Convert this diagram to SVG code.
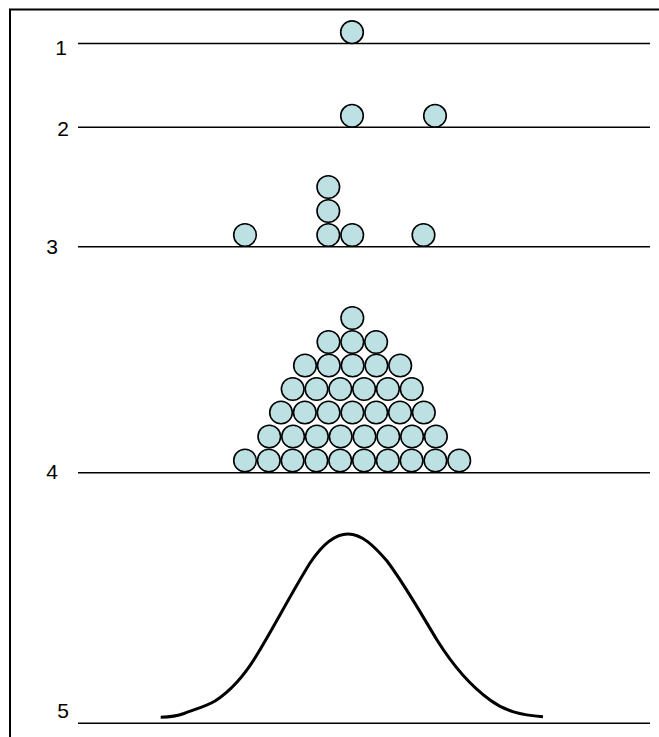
<svg xmlns="http://www.w3.org/2000/svg" width="659" height="737" viewBox="0 0 659 737">
<style>
.lbl{font-family:"Liberation Sans",Arial,sans-serif;font-size:21px;fill:#000;text-anchor:middle}
.ln{stroke:#000;stroke-width:1.6;fill:none}
.b{fill:#BDE0E3;stroke:#000;stroke-width:1.6}
</style>
<defs><circle id="ball" r="11.3" class="b"/></defs>
<rect x="0" y="0" width="659" height="737" fill="#fff"/>
<g id="frame"><path d="M10,737 V9.5 H659" fill="none" stroke="#000" stroke-width="2"/></g>
<g id="connectors">
<line class="ln" x1="78" y1="43.5" x2="650" y2="43.5"/>
<line class="ln" x1="78" y1="127.3" x2="650" y2="127.3"/>
<line class="ln" x1="78" y1="246.8" x2="650" y2="246.8"/>
<line class="ln" x1="78" y1="472.7" x2="650" y2="472.7"/>
<line class="ln" x1="78" y1="723.3" x2="650" y2="723.3"/>
</g>
<g id="labels">
<text class="lbl" x="61" y="55">1</text>
<text class="lbl" x="63" y="136">2</text>
<text class="lbl" x="52" y="254">3</text>
<text class="lbl" x="52" y="479">4</text>
<text class="lbl" x="63" y="718">5</text>
</g>
<g id="row1"><use href="#ball" x="352" y="32.2"/></g>
<g id="row2"><use href="#ball" x="352" y="115.8"/><use href="#ball" x="435" y="115.8"/></g>
<g id="row3">
<use href="#ball" x="245" y="235"/>
<use href="#ball" x="328.3" y="235"/>
<use href="#ball" x="352.2" y="235"/>
<use href="#ball" x="423.5" y="235"/>
<use href="#ball" x="328.3" y="211"/>
<use href="#ball" x="328.3" y="187"/>
</g>
<g id="row4">
<use href="#ball" x="245" y="460.5"/><use href="#ball" x="268.8" y="460.5"/><use href="#ball" x="292.6" y="460.5"/><use href="#ball" x="316.4" y="460.5"/><use href="#ball" x="340.2" y="460.5"/><use href="#ball" x="364" y="460.5"/><use href="#ball" x="387.8" y="460.5"/><use href="#ball" x="411.6" y="460.5"/><use href="#ball" x="435.4" y="460.5"/><use href="#ball" x="459.2" y="460.5"/>
<use href="#ball" x="269.3" y="436.5"/><use href="#ball" x="293.1" y="436.5"/><use href="#ball" x="316.9" y="436.5"/><use href="#ball" x="340.7" y="436.5"/><use href="#ball" x="364.5" y="436.5"/><use href="#ball" x="388.3" y="436.5"/><use href="#ball" x="412.1" y="436.5"/><use href="#ball" x="435.9" y="436.5"/>
<use href="#ball" x="281" y="412.5"/><use href="#ball" x="304.8" y="412.5"/><use href="#ball" x="328.6" y="412.5"/><use href="#ball" x="352.4" y="412.5"/><use href="#ball" x="376.2" y="412.5"/><use href="#ball" x="400" y="412.5"/><use href="#ball" x="423.8" y="412.5"/>
<use href="#ball" x="292.7" y="389"/><use href="#ball" x="316.5" y="389"/><use href="#ball" x="340.3" y="389"/><use href="#ball" x="364.1" y="389"/><use href="#ball" x="387.9" y="389"/><use href="#ball" x="411.7" y="389"/>
<use href="#ball" x="305" y="365.5"/><use href="#ball" x="328.8" y="365.5"/><use href="#ball" x="352.6" y="365.5"/><use href="#ball" x="376.4" y="365.5"/><use href="#ball" x="400.2" y="365.5"/>
<use href="#ball" x="328.5" y="342"/><use href="#ball" x="352.3" y="342"/><use href="#ball" x="376.1" y="342"/>
<use href="#ball" x="352.3" y="318"/>
</g>
<g id="curve">
<path d="M160.7,717.3 C170,717 176,716.5 184,713.5 C195,709 205,707 215,701 C232,690 245,675 258,653 C275,625 292,592 310,563 C322,545 334,534 348,534 C362,534 374,546 387,561 C405,585 420,612 437,640 C452,664 468,684 490,700 C505,711 520,715 543,716.7" fill="none" stroke="#000" stroke-width="3"/>
</g>
</svg>
